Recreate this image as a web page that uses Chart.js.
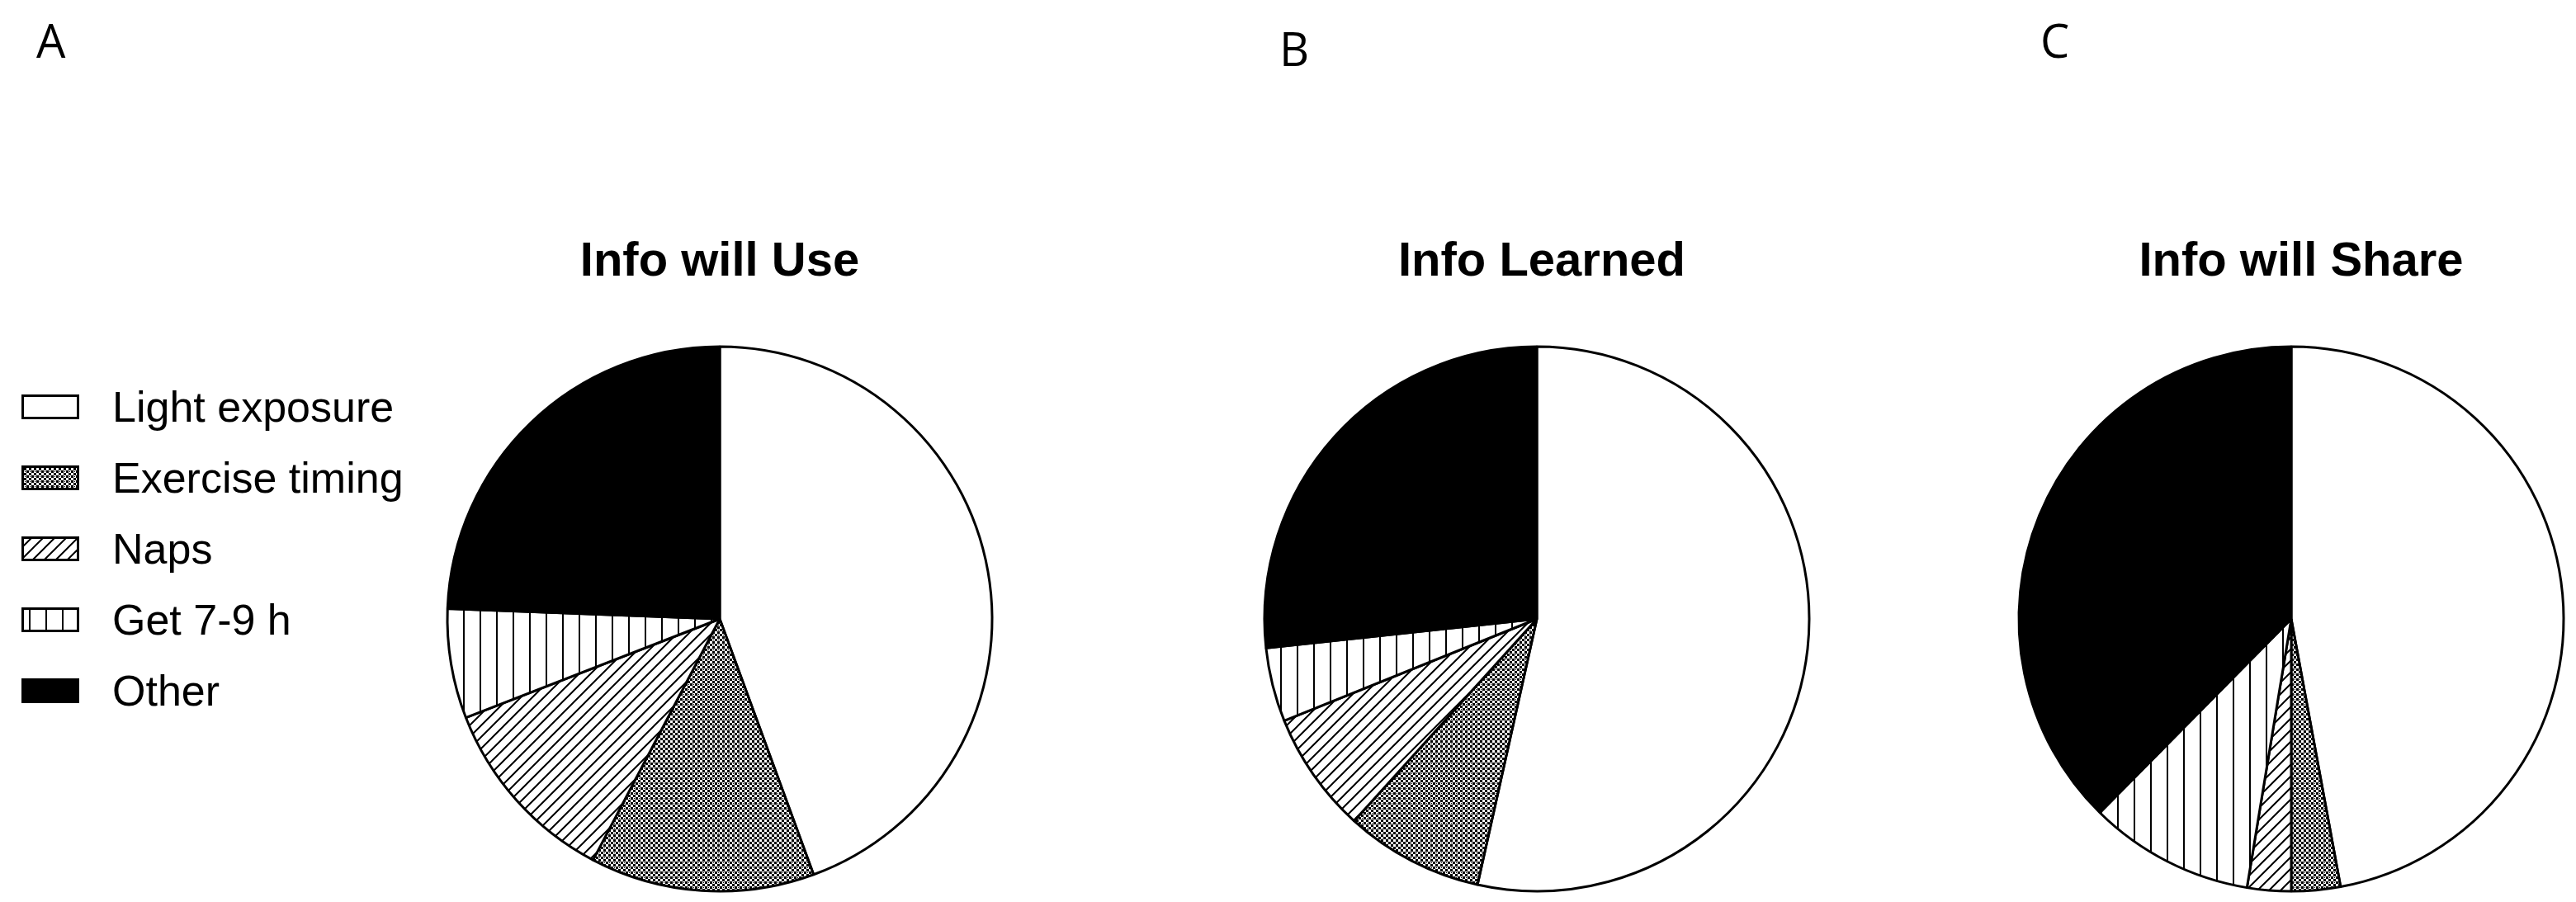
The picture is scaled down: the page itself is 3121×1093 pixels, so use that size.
<!DOCTYPE html>
<html><head><meta charset="utf-8">
<script src="https://cdn.jsdelivr.net/npm/chart.js@4/dist/chart.umd.min.js"></script>
<style>
body{margin:0;background:#fff;width:3121px;height:1093px;position:relative;overflow:hidden;font-family:"Liberation Sans",Arial,sans-serif}
.lab{position:absolute;font-size:56px;color:#000;font-family:"Open Sans",sans-serif}
.title{position:absolute;font-size:58px;font-weight:bold;transform:translateX(-50%);top:280px;white-space:nowrap}
.pc{position:absolute;top:390px;width:720px;height:720px}
#legend{position:absolute;left:26px;top:450px}
.row{display:flex;align-items:center;height:86px;font-size:52px}
.row canvas{margin-right:40px}
</style></head><body>
<div class="lab" style="left:44px;top:10px">A</div>
<div class="lab" style="left:1550px;top:20px">B</div>
<div class="lab" style="left:2472px;top:10px">C</div>
<div class="title" style="left:872px">Info will Use</div>
<div class="title" style="left:1868px">Info Learned</div>
<div class="title" style="left:2788px">Info will Share</div>
<div id="legend"></div>
<div class="pc" style="left:512px"><canvas id="c1" width="720" height="720"></canvas></div>
<div class="pc" style="left:1502px"><canvas id="c2" width="720" height="720"></canvas></div>
<div class="pc" style="left:2416px"><canvas id="c3" width="720" height="720"></canvas></div>
<script>
const categories=["Light exposure","Exercise timing","Naps","Get 7-9 h","Other"];
const useValues=[44.4,13.3,11.4,6.5,24.4];
const learnedValues=[53.5,8.2,7.2,4.4,26.7];
const shareValues=[47.1,2.9,2.6,9.8,37.6];

function pat(kind){
  const c=document.createElement('canvas');
  const x=c.getContext('2d');
  if(kind==='checker'){c.width=c.height=6;x.fillStyle='#fff';x.fillRect(0,0,6,6);x.fillStyle='#000';
    x.fillRect(0,0,3,3);x.fillRect(3,3,3,3);x.fillRect(4,1,1,1);}
  else if(kind==='diag'){c.width=c.height=14;x.fillStyle='#fff';x.fillRect(0,0,14,14);x.strokeStyle='#000';x.lineWidth=2;
    x.beginPath();x.moveTo(0,14);x.lineTo(14,0);x.moveTo(-7,7);x.lineTo(7,-7);x.moveTo(7,21);x.lineTo(21,7);x.stroke();}
  else if(kind==='vert'){c.width=20;c.height=4;x.fillStyle='#fff';x.fillRect(0,0,20,4);x.fillStyle='#000';x.fillRect(9,0,2,4);}
  return x.createPattern(c,'repeat');
}
const fills=['#ffffff',pat('checker'),pat('diag'),pat('vert'),'#000000'];

const leg=document.getElementById('legend');
categories.forEach((n,i)=>{
  const r=document.createElement('div');r.className='row';
  const b=document.createElement('canvas');b.width=70;b.height=30;
  const g=b.getContext('2d');g.fillStyle=fills[i];g.fillRect(0,0,70,30);g.strokeStyle='#000';g.lineWidth=6;g.strokeRect(0,0,70,30);
  r.appendChild(b);const t=document.createElement('span');t.textContent=n;r.appendChild(t);leg.appendChild(r);
});

function mk(id,vals){
  new Chart(document.getElementById(id),{type:'pie',
    data:{labels:categories,datasets:[{data:vals,backgroundColor:fills,borderColor:'#000',borderWidth:3}]},
    options:{responsive:false,animation:false,radius:330,layout:{padding:0},
      plugins:{legend:{display:false},tooltip:{enabled:false}}}});
}
mk('c1',useValues);mk('c2',learnedValues);mk('c3',shareValues);
</script></body></html>
